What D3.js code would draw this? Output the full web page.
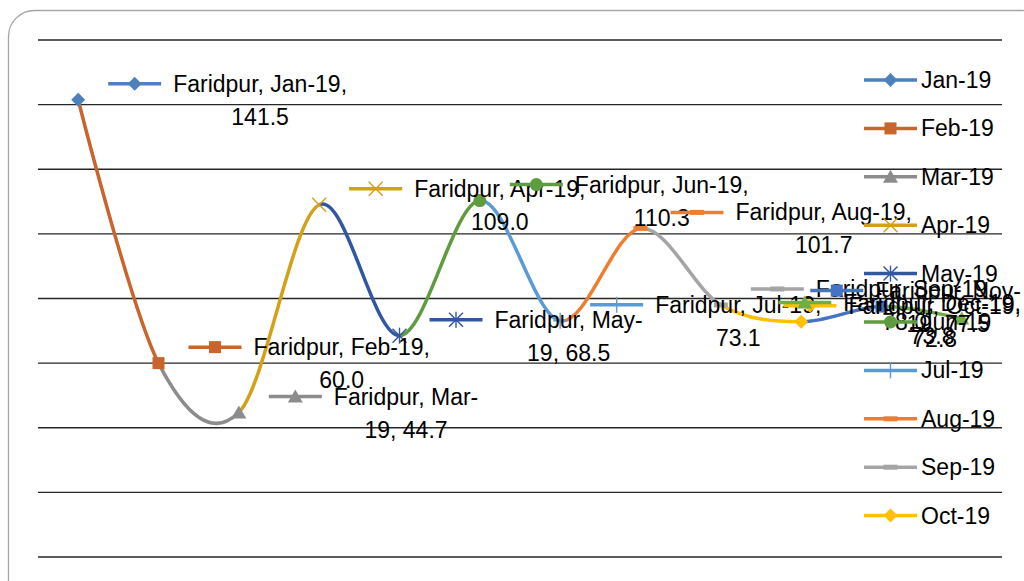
<!DOCTYPE html>
<html>
<head>
<meta charset="utf-8">
<script src="https://cdn.jsdelivr.net/npm/d3@7"></script>
<style>
  body { margin: 0; background: #fff; }
  svg { display: block; }
  text { font-family: "Liberation Sans", Arial, sans-serif; fill: #000; }
</style>
</head>
<body>
<svg id="chart" width="1024" height="581"></svg>
<script>
// data
var region = "Faridpur";
var months = ["Jan-19","Feb-19","Mar-19","Apr-19","May-19","Jun-19","Jul-19","Aug-19","Sep-19","Oct-19","Nov-19","Dec-19"];
var values = [141.5, 60.0, 44.7, 109.0, 68.5, 110.3, 73.1, 101.7, 78.0, 72.8, 77.5, 73.8];
var colors = ["#4e80bc","#c9642c","#8c8c8c","#d4a017","#3157a0","#5f9b3f","#5b9bd5","#ed7d31","#a5a5a5","#ffc000","#4472c4","#70ad47"];
var markers = ["diamond","square","triangle","x","star","circle","plus","dash","dash","diamond","square","triangle"];
var yTicks = [0, 20, 40, 60, 80, 100, 120, 140, 160];
var breakInMonth = ["Mar-19","May-19","Nov-19"]; // labels that wrap after the hyphen
var legendCount = 10; // only Jan..Oct fit in the legend box

var svg = d3.select("#chart");
var fs = 23;

//chart area border
svg.append("rect")
    .attr("x", 8.5).attr("y", 10.5)
    .attr("width", 1040).attr("height", 600)
    .attr("rx", 26)
    .attr("fill", "none")
    .attr("stroke", "#a6a6a6")
    .attr("stroke-width", 1.3);

var x = d3.scaleBand().domain(months).range([38, 1002]);
var y = d3.scaleLinear().domain([0, 160]).range([557, 40]);
function px(i) { return x(months[i]) + x.bandwidth() / 2; }
function py(i) { return y(values[i]); }

//gridlines
svg.append("g").selectAll("line")
    .data(yTicks)
    .enter().append("line")
    .attr("x1", 38).attr("x2", 1002)
    .attr("y1", d => y(d)).attr("y2", d => y(d))
    .attr("stroke", "#262626")
    .attr("stroke-width", 1.3);

//smooth line, every segment clipped and coloured by the point it ends at
var pts = values.map((v, i) => [px(i), py(i)]);
var line = d3.line().curve(d3.curveCardinal.tension(0));
var defs = svg.append("defs");
var segs = svg.append("g");
for (var i = 1; i < pts.length; i++) {
    defs.append("clipPath").attr("id", "seg" + i)
        .append("rect")
        .attr("x", px(i - 1)).attr("y", 0)
        .attr("width", px(i) - px(i - 1)).attr("height", 581);
    segs.append("path")
        .attr("d", line(pts))
        .attr("clip-path", "url(#seg" + i + ")")
        .attr("fill", "none")
        .attr("stroke", colors[i])
        .attr("stroke-width", 3.5);
}

function drawMarker(g, type, color, cx, cy) {
    var m = g.append("g").attr("transform", "translate(" + cx + "," + cy + ")");
    if (type == "diamond") {
        m.append("path").attr("d", "M0,-7L7,0L0,7L-7,0Z").attr("fill", color);
    } else if (type == "square") {
        m.append("rect").attr("x", -6).attr("y", -6).attr("width", 12).attr("height", 12).attr("fill", color);
    } else if (type == "triangle") {
        m.append("path").attr("d", "M0,-7L7.5,6L-7.5,6Z").attr("fill", color);
    } else if (type == "circle") {
        m.append("circle").attr("r", 6.5).attr("fill", color);
    } else if (type == "dash") {
        m.append("rect").attr("x", -7).attr("y", -2.5).attr("width", 14).attr("height", 5).attr("fill", color);
    } else {
        var segsM = [];
        if (type == "x" || type == "star") segsM.push([-7, -7, 7, 7], [-7, 7, 7, -7]);
        if (type == "star") segsM.push([0, -8, 0, 8]);
        if (type == "plus") segsM.push([-7, 0, 7, 0], [0, -8, 0, 8]);
        segsM.forEach(function(s) {
            m.append("line")
                .attr("x1", s[0]).attr("y1", s[1]).attr("x2", s[2]).attr("y2", s[3])
                .attr("stroke", color).attr("stroke-width", 1.4);
        });
    }
}

function drawKey(g, i, x0, cy) {
    g.append("line")
        .attr("x1", x0).attr("x2", x0 + 53)
        .attr("y1", cy).attr("y2", cy)
        .attr("stroke", colors[i])
        .attr("stroke-width", 3.5);
    drawMarker(g, markers[i], colors[i], x0 + 26.5, cy);
}

//point markers (Jan has no incoming segment so the marker still shows)
var markG = svg.append("g");
pts.forEach(function(p, i) { drawMarker(markG, markers[i], colors[i], p[0], p[1]); });

//data labels
var labG = svg.append("g");
months.forEach(function(m, i) {
    var v = values[i].toFixed(1);
    var lines;
    if (breakInMonth.indexOf(m) >= 0) {
        var parts = m.split("-");
        lines = [region + ", " + parts[0] + "-", parts[1] + ", " + v];
    } else {
        lines = [region + ", " + m + ",", v];
    }
    var g = labG.append("g");
    var texts = lines.map(function(t, k) {
        return g.append("text")
            .attr("font-size", fs)
            .attr("text-anchor", "middle")
            .attr("y", py(i) - 16 + k * 33 + 8)
            .text(t);
    });
    var blockW = d3.max(texts, t => t.node().getComputedTextLength());
    var left = px(i) + 30;
    var total = 53 + 12 + blockW;
    if (left + total > 1021) left = 1021 - total;
    texts.forEach(t => t.attr("x", left + 65 + blockW / 2));
    drawKey(g, i, left, py(i) - 16);
});

//legend
var legG = svg.append("g");
months.slice(0, legendCount).forEach(function(m, i) {
    var cy = 80 + i * 48.4;
    drawKey(legG, i, 864, cy);
    legG.append("text")
        .attr("x", 921)
        .attr("y", cy + 8)
        .attr("font-size", fs)
        .text(m);
});
</script>
</body>
</html>
